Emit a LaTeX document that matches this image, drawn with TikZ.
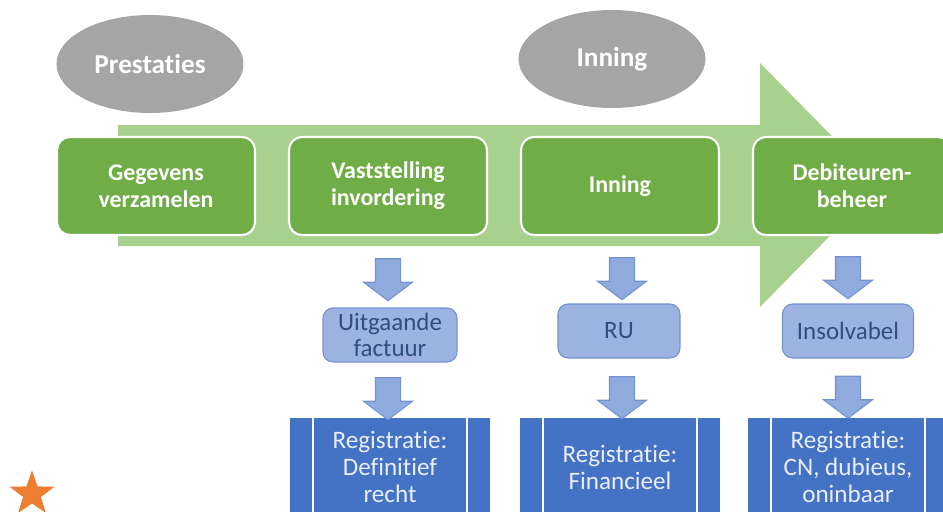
\documentclass[tikz,border=0pt]{standalone}
\usepackage{fontspec}
\setmainfont{Carlito}[Ligatures=NoCommon]
\usetikzlibrary{positioning,calc,shapes.geometric,shapes.arrows}

\definecolor{stapgroen}{HTML}{70AD47}
\definecolor{lichtgroen}{HTML}{A9D18E}
\definecolor{fasegrijs}{HTML}{A5A5A5}
\definecolor{pijlblauw}{HTML}{8FAADC}
\definecolor{pijlrand}{HTML}{7393CF}
\definecolor{kaderblauw}{HTML}{9CB2E1}
\definecolor{kadertekst}{HTML}{2F4D80}
\definecolor{regblauw}{HTML}{4472C4}
\definecolor{regtekst}{HTML}{E9EEF8}
\definecolor{steroranje}{HTML}{ED7D31}

\begin{document}
\begin{tikzpicture}
[x=0.02cm,y=-0.02cm,
 stap/.style={rectangle,rounded corners=0.26cm,fill=stapgroen,draw=white,line width=1.2pt,
   minimum width=3.96cm,minimum height=1.96cm,text=white,align=center,
   font=\fontsize{13.6}{15.3}\selectfont\bfseries},
 fase/.style={ellipse,fill=fasegrijs,minimum width=3.74cm,minimum height=1.96cm,
   text=white,font=\fontsize{15.5}{17}\selectfont\bfseries},
 kader/.style={rectangle,rounded corners=0.2cm,fill=kaderblauw,draw=pijlrand,line width=0.6pt,
   minimum height=1.08cm,inner sep=1pt,text=kadertekst,align=center,
   font=\fontsize{14.2}{14.7}\selectfont},
 pijl/.style={single arrow,shape border rotate=270,fill=pijlblauw,draw=pijlrand,line width=0.6pt,
   inner sep=0.24cm,minimum height=0.84cm,
   single arrow head extend=0.24cm,single arrow tip angle=106},
 reg/.style={rectangle,fill=regblauw,minimum width=4cm,minimum height=1.96cm,
   text=regtekst,align=center,font=\fontsize{14.3}{15.3}\selectfont},
 regrand/.style={draw=white,line width=1pt}]

\useasboundingbox (0,0) rectangle (943,511);
\clip (0,0) rectangle (943,511);

% grote pijl op de achtergrond
\fill[lichtgroen] (118,125) -- (760,125) -- (760,63) -- (880,185)
  -- (760,307) -- (760,246) -- (118,246) -- cycle;

% fasen
\node[fase] (prest) at (150,64) {Prestaties};
\node[fase] (innfase) at (612,59) {Inning};

% stappen
\node[stap] (gegev) at (156,186) {Gegevens\\verzamelen};
\node[stap] (vast) at (388,186) {Vaststelling\\invordering};
\node[stap] (inning) at (620,186) {Inning};
\node[stap] (debit) at (852,186) {Debiteuren-\\beheer};

% tussenkaders
\node[kader,minimum width=2.68cm] (uitg) at (390,335) {Uitgaande\\factuur};
\node[kader,minimum width=2.44cm] (ru) at (619,331) {RU};
\node[kader,minimum width=2.62cm] (insolv) at (848,331) {Insolvabel};

% registraties
\node[reg] (reg1) at (390,467) {Registratie:\\Definitief\\recht};
\node[reg] (reg2) at (620,467) {Registratie:\\Financieel};
\node[reg] (reg3) at (848,467) {Registratie:\\CN, dubieus,\\oninbaar};

\foreach \r in {reg1,reg2,reg3}{
  \draw[regrand] ([xshift=0.46cm]\r.north west) -- ([xshift=0.46cm]\r.south west);
  \draw[regrand] ([xshift=-0.46cm]\r.north east) -- ([xshift=-0.46cm]\r.south east);
}

% blokpijlen
\node[pijl] (p1) at ($(388,296)!0.5!(388,254)$) {};
\node[pijl] (p2) at ($(388,415)!0.5!(388,373)$) {};
\node[pijl] (p3) at ($(622,295)!0.5!(622,253)$) {};
\node[pijl] (p4) at ($(622,414)!0.5!(622,372)$) {};
\node[pijl] (p5) at ($(848,293)!0.5!(848,253)$) {};
\node[pijl] (p6) at ($(848,413)!0.5!(848,372)$) {};

% ster
\node[star,star points=5,star point ratio=2.5,fill=steroranje,inner sep=0pt,
  minimum size=0.94cm] (ster) at (32,494) {};

\end{tikzpicture}
\end{document}
